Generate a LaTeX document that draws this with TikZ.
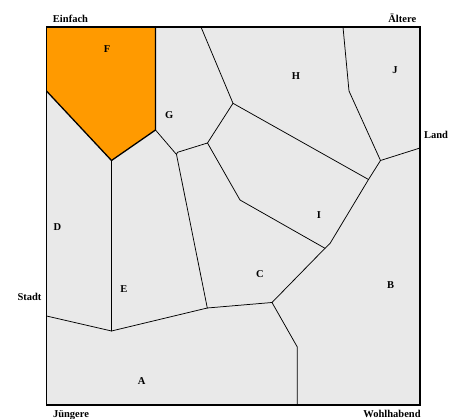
\documentclass[tikz,border=0pt]{standalone}
\usepackage{fontspec}
\setmainfont{Liberation Serif}
\usepackage{xcolor}
\definecolor{cellgray}{RGB}{233,233,233}
\definecolor{cellorange}{RGB}{255,154,0}
\tikzset{
  cellline/.style={black,line width=0.75pt,line cap=round,line join=round},
  cellframe/.style={black,line width=1.3pt,line join=miter},
  celltag/.style={font=\fontsize{10.5}{12}\selectfont\bfseries,inner sep=0pt,anchor=base},
}

\begin{document}
\begin{tikzpicture}[x=1pt,y=-1pt]
  \useasboundingbox (0,0) rectangle (459,419);
  % box corners and cell vertices
  \coordinate (nw) at (46.5,27);   \coordinate (ne) at (420,27);
  \coordinate (se) at (420,405);   \coordinate (sw) at (46.5,405);
  \coordinate (f1) at (155.5,27);  \coordinate (f2) at (155.5,130);
  \coordinate (f3) at (111.5,160.5); \coordinate (f4) at (46.5,91);
  \coordinate (g1) at (176.5,154.5); \coordinate (g2) at (177.5,152.3);
  \coordinate (g3) at (207.5,143); \coordinate (g4) at (233,103.3);
  \coordinate (g5) at (201,27);
  \coordinate (h1) at (343,27);    \coordinate (h2) at (349,91);
  \coordinate (h3) at (380.5,160.5); \coordinate (h4) at (420,148);
  \coordinate (i1) at (368.5,179.5); \coordinate (i2) at (330,243.5);
  \coordinate (i3) at (325,248.3);
  \coordinate (c1) at (240,200);   \coordinate (c2) at (272,302.5);
  \coordinate (c3) at (207.3,308);
  \coordinate (b1) at (297.3,347); \coordinate (b2) at (297.3,405);
  \coordinate (e1) at (111.5,331); \coordinate (d1) at (46.5,316);

  \fill[cellgray] (nw) rectangle (se);
  \fill[cellorange] (nw)--(f1)--(f2)--(f3)--(f4)--cycle;

  \draw[cellline] (f2)--(g1)--(g2)--(g3)--(g4)--(g5);
  \draw[cellline] (g1)--(c3);
  \draw[cellline] (g3)--(c1)--(i3)--(i2)--(i1)--(h3)--(h2)--(h1);
  \draw[cellline] (h3)--(h4);
  \draw[cellline] (g4)--(i1);
  \draw[cellline] (i3)--(c2)--(c3);
  \draw[cellline] (c2)--(b1)--(b2);
  \draw[cellline] (f3)--(e1)--(c3);
  \draw[cellline] (e1)--(d1);

  \draw[cellframe] (f1)--(f2)--(f3)--(f4);
  \draw[cellframe] (nw) rectangle (se);

  % cell names
  \node[celltag] (lF) at (107,52.3) {F};
  \node[celltag] (lG) at (169.3,118.3) {G};
  \node[celltag] (lH) at (296,80) {H};
  \node[celltag] (lJ) at (395,73.3) {J};
  \node[celltag] (lI) at (319,218.3) {I};
  \node[celltag] (lC) at (260,278) {C};
  \node[celltag] (lB) at (390.7,288.3) {B};
  \node[celltag] (lD) at (57.3,231) {D};
  \node[celltag] (lE) at (124,292.7) {E};
  \node[celltag] (lA) at (141.7,385) {A};

  % axis words
  \node[celltag] (einfach) at (70.5,22.3) {Einfach};
  \node[celltag] (aeltere) at (402.3,22.3) {Ältere};
  \node[celltag] (land) at (436,139) {Land};
  \node[celltag] (stadt) at (29.5,301) {Stadt};
  \node[celltag] (juengere) at (71,418) {Jüngere};
  \node[celltag] (wohl) at (392,417.7) {Wohlhabend};
\end{tikzpicture}
\end{document}
